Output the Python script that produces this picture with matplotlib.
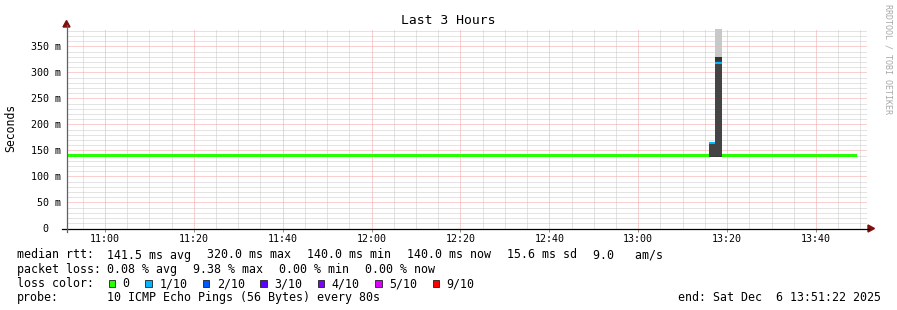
import matplotlib
matplotlib.use("Agg")
import matplotlib.pyplot as plt
from matplotlib.lines import Line2D
from matplotlib.patches import Polygon, Rectangle
from matplotlib.ticker import MultipleLocator, FixedLocator

W, H = 897, 310
MONO = "DejaVu Sans Mono"

# ---------------- data ----------------
graph_start = "10:51:22"
graph_end = "13:51:22"

# median rtt segments (ms) and loss (pings lost out of 10)
seg_start = ["10:51:22", "13:15:50", "13:17:18", "13:18:45"]
seg_end = ["13:15:50", "13:17:18", "13:18:45", "13:49:20"]
seg_median = [140.0, 165.0, 319.0, 140.0]
seg_loss = [0, 1, 1, 0]

# smoke: sorted rtts (ms) of the received pings in steps that show spread
smoke_start = ["13:15:50", "13:17:18"]
smoke_end = ["13:17:18", "13:18:45"]
smoke_pings = [
    [137, 137, 138, 139, 165, 165, 165, 166, 166],
    [137, 137, 138, 139, 320, 322, 324, 329, 384],
]

y_ticks = [0, 50, 100, 150, 200, 250, 300, 350]
y_tick_labels = ["0  ", "50 m", "100 m", "150 m", "200 m", "250 m", "300 m", "350 m"]
x_tick_labels = ["11:00", "11:20", "11:40", "12:00", "12:20", "12:40", "13:00", "13:20", "13:40"]

loss_labels = ["0", "1/10", "2/10", "3/10", "4/10", "5/10", "9/10"]
loss_colors = ["#26ff00", "#00b8ff", "#0059ff", "#5e00ff", "#7e00ff", "#dd00ff", "#ff0000"]
loss_index = {0: 0, 1: 1, 2: 2, 3: 3, 4: 4, 5: 5, 9: 6}

rtt_items = ["141.5 ms avg", "320.0 ms max", "140.0 ms min", "140.0 ms now",
             "15.6 ms sd", "9.0   am/s"]
loss_items = ["0.08 % avg", "9.38 % max", "0.00 % min", "0.00 % now"]
title = "Last 3 Hours"
probe_text = "10 ICMP Echo Pings (56 Bytes) every 80s"
end_text = "end: Sat Dec  6 13:51:22 2025"


def tmin(s):
    h, m, sec = (int(v) for v in s.split(":"))
    return h * 60 + m + sec / 60.0


# ---------------- figure ----------------
fig = plt.figure(figsize=(W / 100, H / 100), dpi=100)
fig.patch.set_facecolor("white")

ax_left, ax_bottom, ax_w, ax_h = 66.5, 228.5, 800, 200
ax = fig.add_axes([ax_left / W, (H - ax_bottom) / H, ax_w / W, ax_h / H])
ax.set_facecolor("white")
for sp in ax.spines.values():
    sp.set_visible(False)

x0, x1 = tmin(graph_start), tmin(graph_end)
ax.set_xlim(x0, x1)
ax.set_ylim(0, 384.5)

px_per_ms = ax_h / 384.5

# grid
major_x = [tmin(l + ":00") for l in x_tick_labels]
ax.xaxis.set_major_locator(FixedLocator(major_x))
ax.xaxis.set_minor_locator(MultipleLocator(5))
ax.yaxis.set_major_locator(FixedLocator(y_ticks))
ax.yaxis.set_minor_locator(MultipleLocator(10))
ax.set_xticklabels(x_tick_labels, fontfamily=MONO, fontsize=7.2)
ax.set_yticklabels(y_tick_labels, fontfamily=MONO, fontsize=7.2)
ax.grid(which="minor", color="#c8c8c8", linestyle=(0, (1, 1)), linewidth=0.72)
ax.grid(which="major", color="#f4a0a0", linestyle=(0, (1, 1)), linewidth=0.72)
ax.set_axisbelow(True)
ax.tick_params(axis="x", which="major", length=2.2, width=0.72, color="#909090", pad=1.5)
ax.tick_params(axis="x", which="minor", length=0)
ax.tick_params(axis="y", which="both", length=0, pad=4.2)

# smoke
smoke_greys = ["#c8c8c8", "#333333", "#3a3a3a", "#444444"]
for s, e, pings in zip(smoke_start, smoke_end, smoke_pings):
    p = sorted(pings)
    n = len(p)
    for i in range(n // 2):
        ax.fill_between([tmin(s), tmin(e)], p[i], p[n - 1 - i],
                        color=smoke_greys[i], linewidth=0, zorder=3)

# median bands coloured by loss
for s, e, med, loss in zip(seg_start, seg_end, seg_median, seg_loss):
    hpx = 3.0 if loss == 0 else 2.0
    half = hpx / px_per_ms / 2
    ax.fill_between([tmin(s), tmin(e)], med - half, med + half,
                    color=loss_colors[loss_index[loss]], linewidth=0, zorder=4)


# ---------------- axes lines / arrows in pixel coords ----------------
def fx(x):
    return x / W


def fy(y):
    return 1 - y / H


fig.add_artist(Line2D([fx(62), fx(869)], [fy(228.5), fy(228.5)], color="black",
                      linewidth=0.9, transform=fig.transFigure))
fig.add_artist(Line2D([fx(66.5), fx(66.5)], [fy(232), fy(25)], color="#606060",
                      linewidth=0.9, transform=fig.transFigure))
arrow_col = "#7f1010"
fig.add_artist(Polygon([(fx(868), fy(225)), (fx(874.5), fy(228.5)), (fx(868), fy(232))],
                       closed=True, color=arrow_col, transform=fig.transFigure))
fig.add_artist(Polygon([(fx(63), fy(27)), (fx(66.5), fy(20.5)), (fx(70), fy(27))],
                       closed=True, color=arrow_col, transform=fig.transFigure))

# ---------------- texts ----------------
fig.text(fx(448), fy(24), title, fontfamily=MONO, fontsize=9.4, ha="center", va="baseline")
fig.text(fx(11), fy(127.5), "Seconds", fontfamily=MONO, fontsize=8.3, rotation=90,
         ha="center", va="center")
fig.text(fx(887.7), fy(4.5), "RRDTOOL / TOBI OETIKER", fontfamily=MONO, fontsize=6.0,
         rotation=270, ha="center", va="top", color="#a8a8a8")

LEG = 8.33
cw = 6.97
gap = 16.3
lx = 16.5
col2 = 107.0
base = [258.5, 272.8, 287.1, 301.4]


def item_row(label, items, y):
    fig.text(fx(lx), fy(y), label, fontfamily=MONO, fontsize=LEG, va="baseline")
    cur = col2
    for it in items:
        fig.text(fx(cur), fy(y), it, fontfamily=MONO, fontsize=LEG, va="baseline")
        cur += len(it) * cw + gap


item_row("median rtt:", rtt_items, base[0])
item_row("packet loss:", loss_items, base[1])
fig.text(fx(lx), fy(base[2]), "loss color:", fontfamily=MONO, fontsize=LEG, va="baseline")
item_row("probe:", [probe_text], base[3])
fig.text(fx(880.5), fy(base[3]), end_text, fontfamily=MONO, fontsize=LEG,
         ha="right", va="baseline")

cursor = 108.7
for lab, col in zip(loss_labels, loss_colors):
    fig.add_artist(Rectangle((fx(cursor), fy(286.5)), 6.7 / W, 7.0 / H, facecolor=col,
                             edgecolor="#202020", linewidth=0.6, transform=fig.transFigure))
    tx = cursor + 14.6
    fig.text(fx(tx - 0.6), fy(base[2]), lab, fontfamily=MONO, fontsize=LEG, va="baseline")
    cursor = tx + len(lab) * cw + 15.0

fig.savefig("out.png", dpi=100, facecolor="white")
